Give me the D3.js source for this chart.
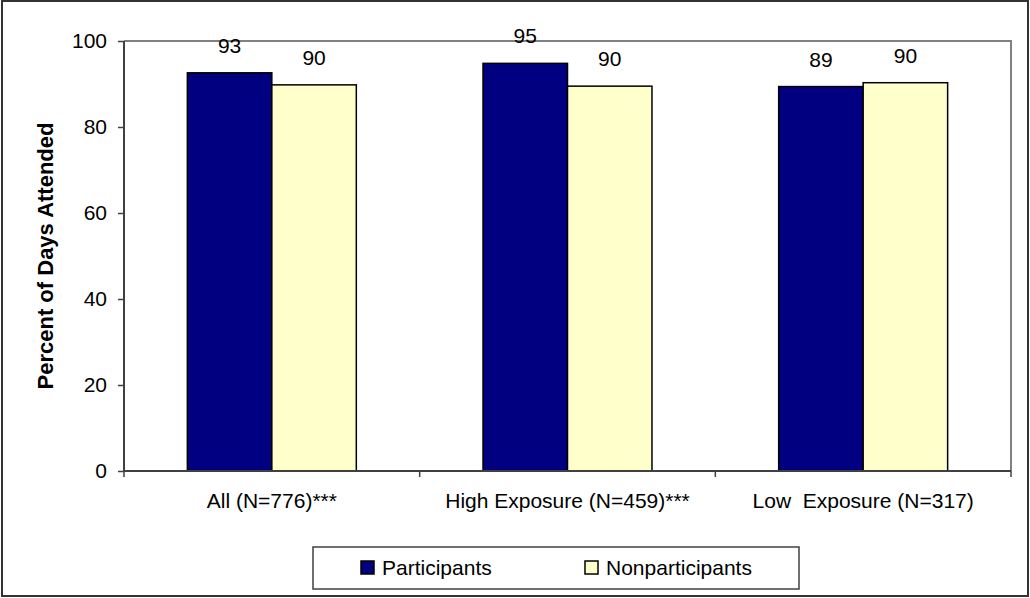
<!DOCTYPE html>
<html>
<head>
<meta charset="utf-8">
<script src="https://cdn.jsdelivr.net/npm/d3@7"></script>
<style>
  body { margin: 0; background: #fff; }
  svg { display: block; font-family: Arial, "Liberation Sans", sans-serif; }
</style>
</head>
<body>
<div id="chart"></div>
<script>
// chart data
var categories = ["All (N=776)***", "High Exposure (N=459)***", "Low  Exposure (N=317)"];
var seriesNames = ["Participants", "Nonparticipants"];
var participants = [92.6, 94.8, 89.4];
var nonparticipants = [89.8, 89.5, 90.3];
var labelParticipants = ["93", "95", "89"];
var labelNonparticipants = ["90", "90", "90"];
var yTicks = [0, 20, 40, 60, 80, 100];
var colors = ["#000080", "#FFFFCC"];

var W = 1030, H = 598;
var margin = {top: 41, right: 19, bottom: 127, left: 124},
    width = W - margin.left - margin.right,
    height = H - margin.top - margin.bottom;
var fs = "21px";

var svg = d3.select("#chart")
  .append("svg")
  .attr("width", W)
  .attr("height", H);

// outer chart border
svg.append("rect")
  .attr("x", 2).attr("y", 1)
  .attr("width", W - 4).attr("height", H - 3)
  .attr("fill", "#fff")
  .attr("stroke", "#333")
  .attr("stroke-width", 2);

var g = svg.append("g")
  .attr("transform", "translate(" + margin.left + "," + margin.top + ")");

var x0 = d3.scaleBand()
  .domain(categories)
  .range([0, width])
  .paddingInner(0)
  .paddingOuter(0);

// Excel style: gap width 150% -> bar width = category / 3.5
var barW = x0.bandwidth() / 3.5;
var x1 = d3.scaleBand()
  .domain(seriesNames)
  .range([x0.bandwidth() / 2 - barW, x0.bandwidth() / 2 + barW]);

var y = d3.scaleLinear().domain([0, 100]).range([height, 0]);

// plot area border (top & right, gray)
g.append("path")
  .attr("d", "M0," + y(100) + "H" + width + "V" + y(0))
  .attr("fill", "none")
  .attr("stroke", "#808080")
  .attr("stroke-width", 2);

var rows = categories.map(function(c, i) {
  return {cat: c, vals: [
    {s: seriesNames[0], v: participants[i], label: labelParticipants[i]},
    {s: seriesNames[1], v: nonparticipants[i], label: labelNonparticipants[i]}
  ]};
});

var groups = g.selectAll("g.cat")
  .data(rows)
  .enter().append("g")
  .attr("class", "cat")
  .attr("transform", function(d) { return "translate(" + x0(d.cat) + ",0)"; });

groups.selectAll("rect")
  .data(function(d) { return d.vals; })
  .enter().append("rect")
  .attr("x", function(d) { return x1(d.s); })
  .attr("y", function(d) { return y(d.v); })
  .attr("width", x1.bandwidth())
  .attr("height", function(d) { return y(0) - y(d.v); })
  .attr("fill", function(d, i) { return colors[i]; })
  .attr("stroke", "#000")
  .attr("stroke-width", 1.5);

groups.selectAll("text.val")
  .data(function(d) { return d.vals; })
  .enter().append("text")
  .attr("class", "val")
  .attr("x", function(d) { return x1(d.s) + x1.bandwidth() / 2; })
  .attr("y", function(d) { return y(d.v) - 20; })
  .attr("text-anchor", "middle")
  .attr("font-size", fs)
  .attr("fill", "#000")
  .text(function(d) { return d.label; });

// y axis
var yAxis = g.append("g")
  .call(d3.axisLeft(y).tickValues(yTicks).tickSize(6).tickPadding(11));
yAxis.select(".domain").attr("stroke", "#404040").attr("stroke-width", 2)
  .attr("d", "M0," + y(0) + "V" + y(100));
yAxis.selectAll(".tick line").attr("stroke", "#404040").attr("stroke-width", 1.5);
yAxis.selectAll(".tick text").attr("font-size", fs).attr("fill", "#000")
  .attr("font-family", "Arial, 'Liberation Sans', sans-serif");

// x axis with ticks at category boundaries
var xAxis = g.append("g")
  .attr("transform", "translate(0," + height + ")");
xAxis.append("line")
  .attr("x1", 0).attr("x2", width)
  .attr("stroke", "#404040").attr("stroke-width", 2);
xAxis.selectAll("line.tk")
  .data(categories.concat([null]))
  .enter().append("line")
  .attr("class", "tk")
  .attr("x1", function(d) { return d === null ? width : x0(d); })
  .attr("x2", function(d) { return d === null ? width : x0(d); })
  .attr("y1", 0).attr("y2", 6)
  .attr("stroke", "#404040").attr("stroke-width", 1.5);
xAxis.selectAll("text")
  .data(categories)
  .enter().append("text")
  .attr("x", function(d) { return x0(d) + x0.bandwidth() / 2; })
  .attr("y", 37)
  .attr("text-anchor", "middle")
  .attr("font-size", fs)
  .attr("fill", "#000")
  .style("white-space", "pre")
  .text(function(d) { return d; });

// y axis title
svg.append("text")
  .attr("transform", "translate(53," + (margin.top + height / 2) + ") rotate(-90)")
  .attr("text-anchor", "middle")
  .attr("font-size", "22px")
  .attr("font-weight", "bold")
  .attr("fill", "#000")
  .text("Percent of Days Attended");

// legend
var legend = svg.append("g").attr("transform", "translate(313,547)");
legend.append("rect")
  .attr("width", 486).attr("height", 42)
  .attr("fill", "#fff")
  .attr("stroke", "#404040").attr("stroke-width", 1.5);
var legX = [48, 272];
var items = legend.selectAll("g.item")
  .data(seriesNames)
  .enter().append("g")
  .attr("class", "item")
  .attr("transform", function(d, i) { return "translate(" + legX[i] + ",14)"; });
items.append("rect")
  .attr("width", 13).attr("height", 13)
  .attr("fill", function(d, i) { return colors[i]; })
  .attr("stroke", "#000").attr("stroke-width", 1.5);
items.append("text")
  .attr("x", 21).attr("y", 14)
  .attr("font-size", fs)
  .attr("fill", "#000")
  .text(function(d) { return d; });
</script>
</body>
</html>
